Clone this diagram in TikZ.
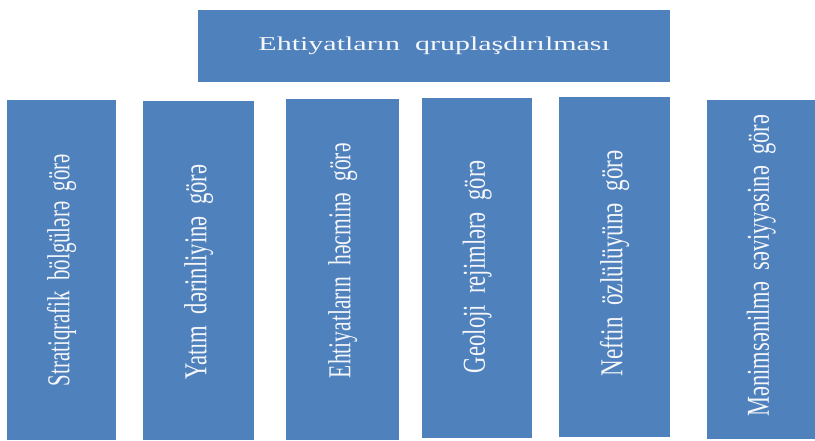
\documentclass[tikz,border=0pt]{standalone}
\usepackage{fontspec}
\setmainfont{Liberation Serif}
\definecolor{boxblue}{HTML}{4F81BD}
\definecolor{boxtext}{HTML}{F4F6FA}
\tikzset{
  box/.style={fill=boxblue, draw=none, inner sep=0pt, text=boxtext, anchor=north west},
}
% #1 scale along the text, #2 kern (twice the upward shift), #3 text
\newcommand{\vtxt}[3]{\rotatebox{90}{\kern#2\scalebox{#1}[1.45]{\fontsize{22}{22}\selectfont #3}}}
\begin{document}
\begin{tikzpicture}[x=1pt,y=-1pt]
\useasboundingbox (0,0) rectangle (815,440);
\node[box, minimum width=472pt, minimum height=72pt] (top) at (198,10)
  {\scalebox{1.53}[1]{\fontsize{19.6}{20}\selectfont Ehtiyatların\ \ qruplaşdırılması}};
\node[box, minimum width=109pt, minimum height=340pt] (b1) at (7,100)
  {\vtxt{0.95}{0pt}{Stratiqrafik\ \ bölgülərə\ \ görə}};
\node[box, minimum width=111pt, minimum height=339pt] (b2) at (143,101)
  {\vtxt{1.03}{-3pt}{Yatım\ \ dərinliyinə\ \ görə}};
\node[box, minimum width=113pt, minimum height=341pt] (b3) at (286,99)
  {\vtxt{0.98}{18pt}{Ehtiyatların\ \ həcminə\ \ görə}};
\node[box, minimum width=110pt, minimum height=340pt] (b4) at (422,98)
  {\vtxt{1.03}{3pt}{Geoloji\ \ rejimlərə\ \ görə}};
\node[box, minimum width=111pt, minimum height=340pt] (b5) at (559,97)
  {\vtxt{1.05}{8pt}{Neftin\ \ özlülüyünə\ \ görə}};
\node[box, minimum width=108pt, minimum height=339pt] (b6) at (707,100)
  {\vtxt{1.02}{8pt}{Mənimsənilmə\ \ səviyyəsinə\ \ görə}};
\end{tikzpicture}
\end{document}
